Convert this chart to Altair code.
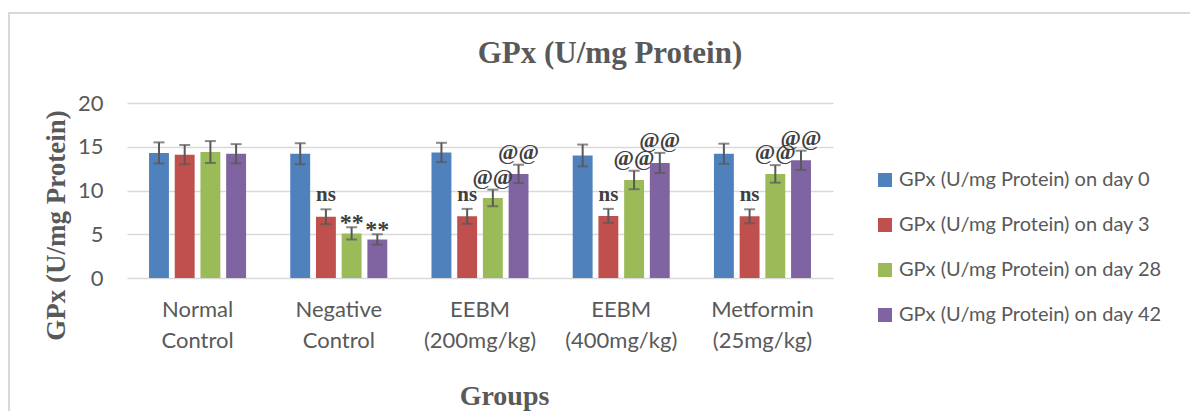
import altair as alt
import pandas as pd

groups = ["Normal Control", "Negative Control", "EEBM (200mg/kg)", "EEBM (400mg/kg)", "Metformin (25mg/kg)"]
days = ["GPx (U/mg Protein) on day 0", "GPx (U/mg Protein) on day 3",
        "GPx (U/mg Protein) on day 28", "GPx (U/mg Protein) on day 42"]
colors = ["#4f81bd", "#c0504d", "#9bbb59", "#8064a2"]

day0 = [14.3, 14.2, 14.35, 14.0, 14.2]
day0_err = [1.2, 1.2, 1.1, 1.25, 1.15]
day3 = [14.1, 7.0, 7.05, 7.1, 7.05]
day3_err = [1.1, 0.85, 0.85, 0.8, 0.8]
day28 = [14.4, 5.1, 9.15, 11.2, 11.9]
day28_err = [1.25, 0.7, 0.95, 1.05, 1.0]
day42 = [14.2, 4.4, 11.9, 13.15, 13.45]
day42_err = [1.1, 0.6, 1.05, 1.15, 1.1]

sig0 = ["", "", "", "", ""]
sig3 = ["", "ns", "ns", "ns", "ns"]
sig28 = ["", "**", "@@", "@@", "@@"]
sig42 = ["", "**", "@@", "@@", "@@"]

rows = []
for day, vals, errs, sigs in zip(days, [day0, day3, day28, day42],
                                 [day0_err, day3_err, day28_err, day42_err],
                                 [sig0, sig3, sig28, sig42]):
    for g, v, e, s in zip(groups, vals, errs, sigs):
        rows.append({"Group": g, "Day": day, "value": v, "lo": v - e, "hi": v + e, "sig": s})
df = pd.DataFrame(rows)

grey = "#595959"
sans = "Lato"
serif = "Liberation Serif"

x_enc = alt.X("Group:N", sort=groups,
              scale=alt.Scale(paddingInner=0.313, paddingOuter=0.156),
              axis=alt.Axis(title="Groups", labelExpr="split(datum.label, ' ')",
                            labelAngle=0, labelFont=sans, labelFontSize=22, labelColor=grey,
                            labelLineHeight=31, labelBaseline="alphabetic", labelPadding=38,
                            labelLimit=300, labelOverlap=False,
                            domain=False, ticks=False, tickSize=0,
                            titleFont=serif, titleFontSize=28, titleFontWeight="bold",
                            titleColor=grey, titleX=377, titleY=126,
                            titleBaseline="alphabetic", titleAlign="center"))
xo_enc = alt.XOffset("Day:N", sort=days, scale=alt.Scale(paddingInner=0.226, paddingOuter=0))

base = alt.Chart(df)

bars = base.mark_bar().encode(
    x=x_enc,
    xOffset=xo_enc,
    y=alt.Y("value:Q", scale=alt.Scale(domain=[0, 20], nice=False),
            axis=alt.Axis(values=[0, 5, 10, 15, 20], title="GPx (U/mg Protein)",
                          labelFont=sans, labelFontSize=22, labelColor=grey, labelPadding=24,
                          domain=False, ticks=False, tickSize=0,
                          grid=True, gridColor="#d9d9d9", gridWidth=1.6,
                          titleFont=serif, titleFontSize=27, titleFontWeight="bold",
                          titleColor=grey, titleAngle=270, titleX=-63, titleY=122,
                          titleBaseline="alphabetic", titleAlign="center")),
    color=alt.Color("Day:N", sort=days, scale=alt.Scale(domain=days, range=colors),
                    legend=alt.Legend(title=None, orient="none", legendX=748, legendY=67,
                                      symbolType="square", symbolSize=196, symbolStrokeWidth=0,
                                      labelFont=sans, labelFontSize=20, labelColor=grey,
                                      labelLimit=400, labelOffset=4, rowPadding=25, padding=0)),
)

rules = base.mark_rule(color=grey, strokeWidth=2).encode(
    x=alt.X("Group:N", sort=groups), xOffset=alt.XOffset("Day:N", sort=days),
    y="lo:Q", y2="hi:Q")
caps_hi = base.mark_tick(color=grey, thickness=2, size=11).encode(
    x=alt.X("Group:N", sort=groups), xOffset=alt.XOffset("Day:N", sort=days), y="hi:Q")
caps_lo = base.mark_tick(color=grey, thickness=2, size=11).encode(
    x=alt.X("Group:N", sort=groups), xOffset=alt.XOffset("Day:N", sort=days), y="lo:Q")

def sig_layer(label, dy, size):
    return base.transform_filter(alt.datum.sig == label).mark_text(
        font=serif, fontSize=size, fontWeight="bold", color="#404040",
        baseline="alphabetic", dy=dy).encode(
        x=alt.X("Group:N", sort=groups), xOffset=alt.XOffset("Day:N", sort=days),
        y="hi:Q", text="sig:N")

ns_text = sig_layer("ns", -8, 21)
star_text = sig_layer("**", 3, 24)
at_text = sig_layer("@@", -6, 22)

title_text = alt.Chart(pd.DataFrame({"t": ["GPx (U/mg Protein)"]})).mark_text(
    font=serif, fontSize=31, fontWeight="bold", color=grey, baseline="alphabetic", align="center"
).encode(x=alt.value(483), y=alt.value(-40), text="t:N")

frame = alt.Chart(pd.DataFrame({"k": [0]})).mark_rect(
    fillOpacity=0, stroke="#d9d9d9", strokeWidth=2
).encode(x=alt.value(-118), x2=alt.value(1075), y=alt.value(-90), y2=alt.value(320))

chart = alt.layer(frame, bars, rules, caps_hi, caps_lo, ns_text, star_text, at_text, title_text).properties(
    width=706, height=175,
    autosize=alt.AutoSizeParams(type="none"),
    padding={"left": 119, "top": 95, "right": 357, "bottom": 133},
    background="white",
).configure_view(stroke=None)

chart.save("out.html", embed_options={"renderer": "svg", "actions": False})
